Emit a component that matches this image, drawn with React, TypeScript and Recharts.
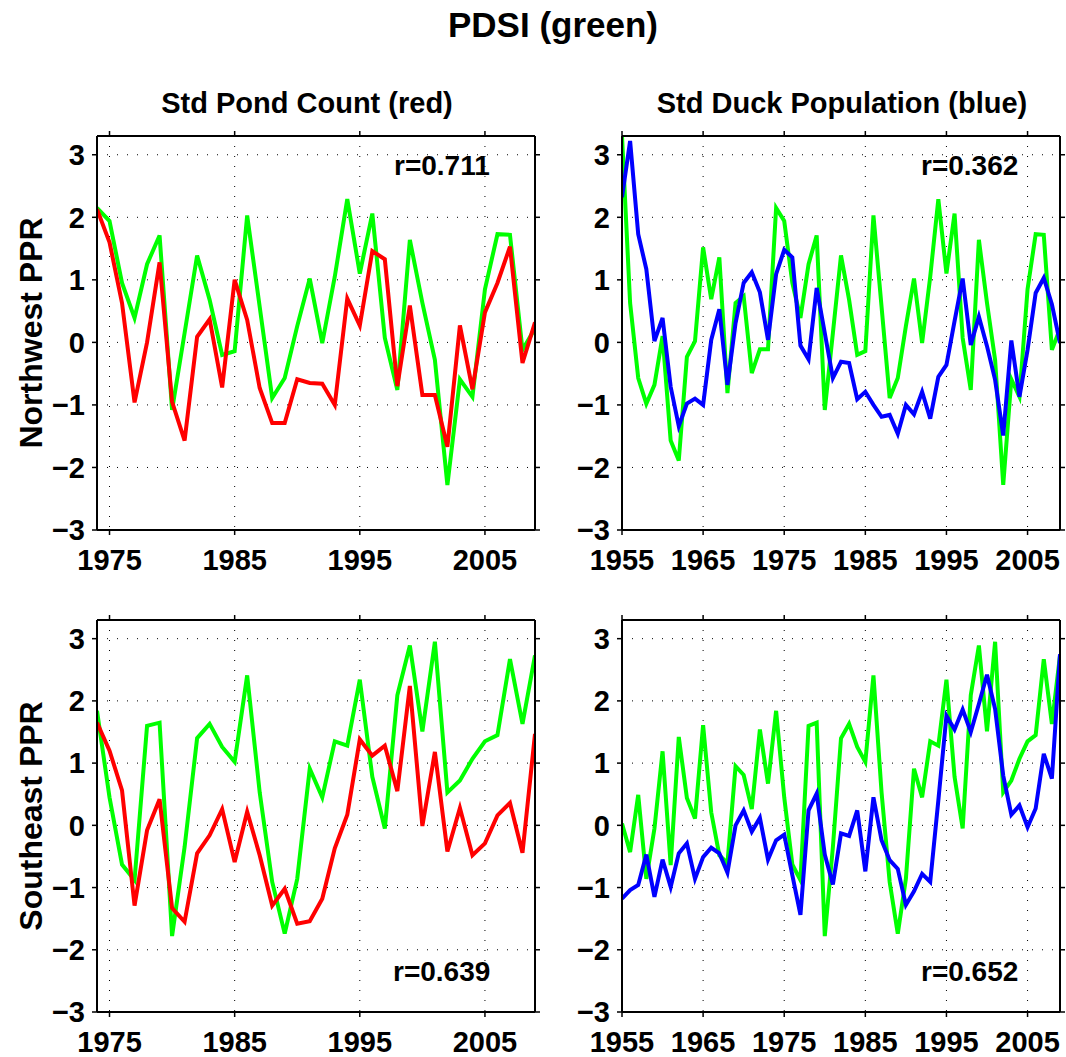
import React from 'react';
import { LineChart, Line, XAxis, YAxis, CartesianGrid } from 'recharts';

const FONT = '"Liberation Sans", Arial, Helvetica, sans-serif';

// x categories
const years: number[] = Array.from({ length: 55 }, (_, i) => 1955 + i);
const pondStartYear = 1974;
const pondTicks = [1975, 1985, 1995, 2005];
const duckTicks = [1955, 1965, 1975, 1985, 1995, 2005];
const yTicks = [-3, -2, -1, 0, 1, 2, 3];

// Northwest PPR, PDSI 1955-2009 (green)
const nwPdsi = [
  3.3, 0.63, -0.57, -0.98, -0.68, 0.1, -1.57, -1.89, -0.23, 0.02,
  1.52, 0.69, 1.36, -0.81, 0.63, 0.74, -0.49, -0.11, -0.11, 2.15,
  1.94, 0.95, 0.39, 1.25, 1.71, -1.08, 0.15, 1.39, 0.68, -0.2,
  -0.14, 2.03, 0.57, -0.89, -0.57, 0.26, 1.02, -0.01, 1.05, 2.29,
  1.1, 2.06, 0.07, -0.76, 1.64, 0.63, -0.28, -2.28, -0.59, -0.87,
  0.85, 1.73, 1.72, -0.12, 0.22,
];
// Northwest PPR, Std pond count 1974-2009 (red)
const nwPond = [
  2.13, 1.6, 0.63, -0.96, 0, 1.28, -0.95, -1.57, 0.09, 0.37,
  -0.72, 1.0, 0.36, -0.73, -1.29, -1.29, -0.59, -0.65, -0.66, -1.0,
  0.7, 0.27, 1.46, 1.33, -0.7, 0.59, -0.84, -0.84, -1.67, 0.27,
  -0.75, 0.48, 0.95, 1.53, -0.33, 0.32,
];
// Northwest PPR, Std duck population 1955-2009 (blue)
const nwDuck = [
  2.32, 3.22, 1.73, 1.17, 0.02, 0.39, -0.71, -1.34, -0.98, -0.9,
  -1.0, 0.04, 0.53, -0.68, 0.31, 0.95, 1.12, 0.8, 0.04, 1.09,
  1.48, 1.36, -0.05, -0.27, 0.87, 0.15, -0.57, -0.31, -0.33, -0.91,
  -0.79, -1.0, -1.19, -1.16, -1.46, -1.0, -1.15, -0.79, -1.22, -0.55,
  -0.36, 0.34, 1.02, -0.04, 0.41, -0.06, -0.6, -1.49, 0.03, -0.87,
  -0.12, 0.79, 1.03, 0.61, -0.01,
];
// Southeast PPR, PDSI 1955-2009 (green)
const sePdsi = [
  0.03, -0.43, 0.49, -0.86, -0.05, 1.19, -0.64, 1.42, 0.44, 0.11,
  1.61, 0.21, -0.48, -0.61, 0.95, 0.81, 0.26, 1.54, 0.67, 1.84,
  0.45, -0.63, -0.88, 1.6, 1.65, -1.78, -0.35, 1.4, 1.63, 1.26,
  1.02, 2.41, 0.53, -0.91, -1.74, -0.86, 0.91, 0.45, 1.35, 1.28,
  2.34, 0.78, -0.05, 2.09, 2.89, 1.51, 2.95, 0.53, 0.72, 1.07,
  1.35, 1.45, 2.67, 1.63, 2.73,
];
// Southeast PPR, Std pond count 1974-2009 (red)
const sePond = [
  1.65, 1.2, 0.56, -1.29, -0.08, 0.42, -1.33, -1.55, -0.45, -0.16,
  0.26, -0.59, 0.22, -0.48, -1.29, -1.02, -1.58, -1.54, -1.18, -0.37,
  0.17, 1.38, 1.12, 1.28, 0.55, 2.24, -0.01, 1.18, -0.42, 0.28,
  -0.48, -0.29, 0.16, 0.36, -0.44, 1.47,
];
// Southeast PPR, Std duck population 1955-2009 (blue)
const seDuck = [
  -1.18, -1.04, -0.96, -0.47, -1.15, -0.55, -0.99, -0.45, -0.29, -0.86,
  -0.51, -0.36, -0.45, -0.76, 0.0, 0.24, -0.1, 0.12, -0.55, -0.24,
  -0.15, -0.8, -1.44, 0.24, 0.51, -0.47, -0.95, -0.13, -0.17, 0.24,
  -0.74, 0.45, -0.24, -0.56, -0.7, -1.28, -1.06, -0.78, -0.91, 0.4,
  1.76, 1.54, 1.86, 1.5, 1.95, 2.42, 1.87, 0.8, 0.17, 0.32,
  -0.03, 0.27, 1.15, 0.75, 2.75,
];

type Row = { year: number; pdsi: number; other: number };

function pondRows(pdsi: number[], pond: number[]): Row[] {
  return years
    .filter((y) => y >= pondStartYear)
    .map((y) => ({ year: y, pdsi: pdsi[y - 1955], other: pond[y - pondStartYear] }));
}
function duckRows(pdsi: number[], duck: number[]): Row[] {
  return years.map((y, i) => ({ year: y, pdsi: pdsi[i], other: duck[i] }));
}

const fmtY = (v: number) => (v < 0 ? '\u2212' + Math.abs(v) : String(v));
const NoTick = () => <g />;

type PanelProps = {
  bx: number; by: number; W: number; H: number;
  x0: number; x1: number; y0: number; y1: number;
  data: Row[]; xMin: number; xTicks: number[]; color: string;
};

function Panel({ bx, by, W, H, x0, x1, y0, y1, data, xMin, xTicks, color }: PanelProps) {
  const margin = {
    left: x0 - bx - 60,
    right: bx + W - x1 - 6,
    top: y0 - by - 6,
    bottom: by + H - y1 - 40,
  };
  const axisLine = { stroke: '#000', strokeWidth: 2 };
  const tickLine = { stroke: '#000', strokeWidth: 1.5 };
  const tickStyle = { fill: '#000', fontSize: 29, fontWeight: 'bold', fontFamily: FONT };
  return (
    <div style={{ position: 'absolute', left: bx, top: by }}>
      <LineChart width={W} height={H} data={data} margin={margin}>
        <CartesianGrid stroke="#000" strokeDasharray="1 9" strokeWidth={1} />
        <XAxis
          dataKey="year" type="number" domain={[xMin, 2009]} ticks={xTicks} interval={0}
          allowDataOverflow height={40} tickSize={5} tickMargin={14}
          axisLine={axisLine} tickLine={tickLine} tick={tickStyle}
        />
        <XAxis
          xAxisId="t" orientation="top" dataKey="year" type="number" domain={[xMin, 2009]}
          ticks={xTicks} interval={0} allowDataOverflow height={6} tickSize={5}
          axisLine={axisLine} tickLine={tickLine} tick={NoTick}
        />
        <YAxis
          type="number" domain={[-3, 3.3]} ticks={yTicks} interval={0} allowDataOverflow
          width={60} tickSize={5} tickMargin={7} tickFormatter={fmtY}
          axisLine={axisLine} tickLine={tickLine} tick={tickStyle}
        />
        <YAxis
          yAxisId="r" orientation="right" type="number" domain={[-3, 3.3]} ticks={yTicks}
          interval={0} allowDataOverflow width={6} tickSize={5}
          axisLine={axisLine} tickLine={tickLine} tick={NoTick}
        />
        <Line dataKey="pdsi" stroke="#00ff00" strokeWidth={4} dot={false} isAnimationActive={false} />
        <Line dataKey="other" stroke={color} strokeWidth={4} dot={false} isAnimationActive={false} />
      </LineChart>
    </div>
  );
}

export default function App() {
  const tl = pondRows(nwPdsi, nwPond);
  const tr = duckRows(nwPdsi, nwDuck);
  const bl = pondRows(sePdsi, sePond);
  const br = duckRows(sePdsi, seDuck);
  const txt = { fontFamily: FONT, fontWeight: 'bold' as const, fill: '#000' };
  return (
    <div style={{ position: 'absolute', left: 0, top: 0, width: 1066, height: 1057, background: '#fff', overflow: 'hidden' }}>
      <Panel bx={0} by={0} W={560} H={600} x0={97} x1={535} y0={136} y1={530} data={tl} xMin={1974} xTicks={pondTicks} color="#ff0000" />
      <Panel bx={540} by={0} W={526} H={600} x0={622} x1={1060} y0={136} y1={530} data={tr} xMin={1955} xTicks={duckTicks} color="#0000ff" />
      <Panel bx={0} by={580} W={560} H={477} x0={97} x1={535} y0={620} y1={1012} data={bl} xMin={1974} xTicks={pondTicks} color="#ff0000" />
      <Panel bx={540} by={580} W={526} H={477} x0={622} x1={1060} y0={620} y1={1012} data={br} xMin={1955} xTicks={duckTicks} color="#0000ff" />
      <svg width={1066} height={1057} style={{ position: 'absolute', left: 0, top: 0, pointerEvents: 'none' }}>
        <text x={553} y={37} textAnchor="middle" fontSize={35} {...txt}>PDSI (green)</text>
        <text x={307} y={113} textAnchor="middle" fontSize={29} {...txt}>Std Pond Count (red)</text>
        <text x={842} y={113} textAnchor="middle" fontSize={29} {...txt}>Std Duck Population (blue)</text>
        <text transform="translate(42,333) rotate(-90)" textAnchor="middle" fontSize={32} {...txt}>Northwest PPR</text>
        <text transform="translate(42,816) rotate(-90)" textAnchor="middle" fontSize={32} {...txt}>Southeast PPR</text>
        <text x={394} y={175} fontSize={28} {...txt}>r=0.711</text>
        <text x={921} y={175} fontSize={28} {...txt}>r=0.362</text>
        <text x={393} y={981} fontSize={28} {...txt}>r=0.639</text>
        <text x={921} y={981} fontSize={28} {...txt}>r=0.652</text>
      </svg>
    </div>
  );
}
